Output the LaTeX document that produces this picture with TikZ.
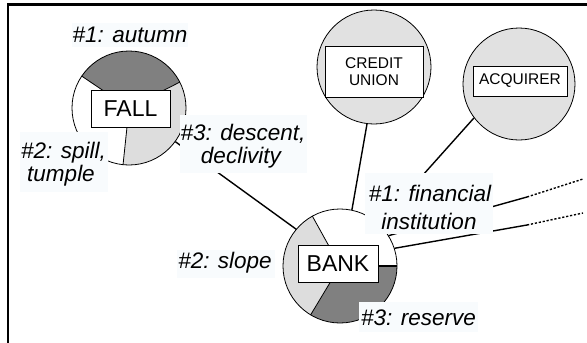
\documentclass[tikz,border=0pt]{standalone}
\usepackage{fontspec}
\setmainfont{Liberation Sans}
\definecolor{lbg}{RGB}{248,251,253}
\definecolor{dgrey}{RGB}{128,128,128}
\definecolor{lgrey}{RGB}{221,221,221}
\definecolor{cgrey}{RGB}{225,225,225}
\begin{document}
\begin{tikzpicture}[x=1pt,y=-1pt,
  ring/.style={circle, inner sep=0pt, minimum size=114pt},
  wordbox/.style={draw, fill=white, line width=0.9pt, inner sep=0pt,
    font=\fontsize{23}{26}\selectfont},
  smallbox/.style={draw, fill=white, line width=0.9pt, inner sep=0pt, align=center,
    font=\fontsize{15.5}{17}\selectfont},
  lab/.style={inner sep=0pt, anchor=base, font=\fontsize{22.5}{24}\selectfont\itshape},
  conn/.style={line width=1.4pt},
  dotconn/.style={line width=1.4pt, dash pattern=on 2.2pt off 1.8pt},
  sector/.style={line width=0.8pt}]
\useasboundingbox (0,0) rectangle (587,343);
\fill[white] (0,0) rectangle (587,343);

% frame (left and top only)
\draw[line width=2.5pt] (8,343) -- (8,4.5) -- (587,4.5);

% ---- circles ----
\node[ring, fill=white] (fall) at (129,108) {};
\node[ring, fill=white] (bank) at (340,266) {};
\node[ring, fill=cgrey, draw, line width=0.8pt] (credit) at (374,67) {};
\node[ring, fill=cgrey, draw, line width=0.8pt, minimum size=112pt] (acq) at (519,84) {};

% FALL sectors
\begin{scope}
  \clip (fall.center) circle[radius=57pt];
  \fill[dgrey] (fall.center) -- +(27:90pt) -- +(87:90pt) -- +(146:90pt) -- cycle;
  \fill[lgrey] (fall.center) -- +(264:90pt) -- +(325:90pt) -- +(27:90pt) -- cycle;
\end{scope}
\draw[sector] (fall.center) -- (fall.27);
\draw[sector] (fall.center) -- (fall.146);
\draw[sector] (fall.center) -- (fall.264);
\draw[line width=0.8pt] (fall.center) circle[radius=57pt];

% BANK sectors
\begin{scope}
  \clip (bank.center) circle[radius=57pt];
  \fill[lgrey] (bank.center) -- +(119:90pt) -- +(179:90pt) -- +(239:90pt) -- cycle;
  \fill[dgrey] (bank.center) -- +(239:90pt) -- +(299:90pt) -- +(360:90pt) -- cycle;
\end{scope}
\draw[sector] (bank.center) -- (bank.119);
\draw[sector] (bank.center) -- (bank.239);
\draw[line width=1.6pt] (bank.center) -- (bank.0);
\draw[line width=0.8pt] (bank.center) circle[radius=57pt];

% ---- word boxes ----
\node[wordbox, minimum width=79pt, minimum height=37pt] (fallbox) at (130.5,108.5) {FALL};
\node[wordbox, minimum width=80pt, minimum height=37pt] (bankbox) at (338,263.5) {BANK};
\node[smallbox, minimum width=98pt, minimum height=51pt] (creditbox) at (374,71.5) {CREDIT\\UNION};
\node[smallbox, minimum width=94pt, minimum height=30pt] (acqbox) at (520,81) {ACQUIRER};

% ---- connectors ----
\coordinate (u1) at (527,197);
\coordinate (u2) at (583,179);
\coordinate (w1) at (527,225);
\coordinate (w2) at (583,213);
\draw[conn] (credit.263) -- (bank.78);
\draw[conn] (acq.217) -- (bank.47);
\draw[conn] (bank.140) -- (fall.324);
\draw[conn] (bank.32) -- (u1);
\draw[dotconn] (u1) -- (u2);
\draw[conn] (bank.18) -- (w1);
\draw[dotconn] (w1) -- (w2);

% ---- labels ----
\fill[lbg] (72,23) rectangle (188,47);
\node[lab] (autumn) at (130,42) {\#1: autumn};

\fill[lbg] (20,132) rectangle (108,192);
\node[lab] (spillA) at (63.5,158) {\#2: spill,};
\node[lab] (spillB) at (61,181) {tumple};

\fill[lbg] (180,115) rectangle (307,173);
\node[lab] (descA) at (243,140) {\#3: descent,};
\node[lab] (descB) at (241,163) {declivity};

\fill[lbg] (177,250) rectangle (275,278);
\node[lab] (slope) at (225,268) {\#2: slope};

\fill[lbg] (365,173) rectangle (493,234);
\node[lab] (finA) at (430,201) {\#1: financial};
\node[lab] (finB) at (429,229) {institution};

\fill[lbg] (359,302) rectangle (478,332);
\node[lab] (reserve) at (418.5,325) {\#3: reserve};
\end{tikzpicture}
\end{document}
